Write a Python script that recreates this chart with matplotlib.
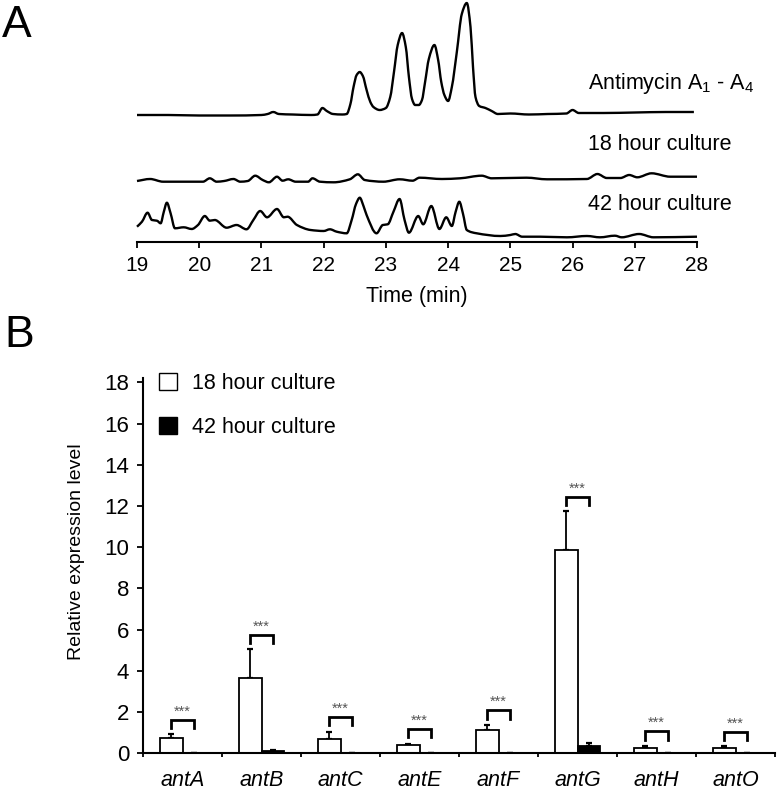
import numpy as np
import matplotlib
matplotlib.use("Agg")
import matplotlib.pyplot as plt
from matplotlib.patches import Patch, PathPatch
from matplotlib.path import Path

plt.rcParams['font.family'] = ['Liberation Sans', 'DejaVu Sans']
plt.rcParams['mathtext.fontset'] = 'custom'
plt.rcParams['mathtext.rm'] = 'Liberation Sans'

# ---- panel A: chromatogram traces (time in min, height above axis) ----
anti_t = [19.0, 19.5, 20.0, 20.5, 21.0, 21.1, 21.19, 21.28, 21.5, 21.8, 21.9, 21.98,
          22.05, 22.15, 22.3, 22.37, 22.43, 22.48, 22.53, 22.58, 22.63, 22.69, 22.75,
          22.8, 22.9, 23.0, 23.07, 23.13, 23.19, 23.26, 23.32, 23.37, 23.42, 23.47,
          23.53, 23.58, 23.63, 23.69, 23.78, 23.84, 23.89, 23.94, 24.0, 24.06, 24.14,
          24.22, 24.3, 24.36, 24.4, 24.44, 24.5, 24.6, 24.7, 24.8, 25.0, 25.3, 25.6,
          25.9, 26.0, 26.1, 26.5, 27.0, 27.5, 27.95]
anti_h = [127, 127, 126.5, 126.5, 127, 128, 130, 128, 127.5, 127, 127.5, 134,
          131, 128, 127.5, 128, 138, 155, 167, 170, 166, 152, 140,
          135, 132, 134, 145, 170, 197, 209, 195, 165, 143, 137,
          137, 142, 160, 183, 197, 182, 160, 147, 141, 155, 190,
          228, 239, 215, 175, 145, 136, 134, 131, 128, 128.5, 127.5, 128,
          128.5, 132, 129, 129, 129.5, 130, 130]

h18_t = [19.0, 19.21, 19.42, 20.06, 20.17, 20.28, 20.4, 20.55, 20.66, 20.78, 20.9,
         21.02, 21.12, 21.25, 21.34, 21.43, 21.55, 21.75, 21.82, 21.94, 22.16, 22.42,
         22.55, 22.66, 22.96, 23.22, 23.43, 23.54, 23.9, 24.19, 24.54, 24.7, 25.26,
         25.59, 26.23, 26.4, 26.55, 26.77, 26.91, 27.04, 27.27, 27.57, 28.0]
h18_h = [61, 63, 60.3, 60.3, 63.7, 60.3, 61, 63, 60.3, 61, 66.3,
         62, 59.7, 65.3, 61.3, 62.7, 60.3, 60.3, 63.7, 60.3, 59.7, 62.7,
         67.7, 62, 60.3, 62.7, 61.3, 64.3, 63, 63.7, 66.3, 63.7, 64.3,
         62.7, 63, 68, 64, 64, 67, 64.7, 68.7, 65.3, 65.3]

h42_t = [19.0, 19.08, 19.17, 19.24, 19.32, 19.38, 19.43, 19.48, 19.54, 19.61, 19.75,
         19.88, 19.98, 20.09, 20.17, 20.25, 20.44, 20.6, 20.76, 20.87, 20.98, 21.09,
         21.25, 21.36, 21.42, 21.57, 21.79, 22.0, 22.1, 22.21, 22.37, 22.45, 22.52,
         22.58, 22.64, 22.69, 22.85, 22.95, 23.03, 23.12, 23.22, 23.3, 23.37, 23.52,
         23.6, 23.73, 23.86, 23.97, 24.06, 24.12, 24.18, 24.24, 24.3, 24.46, 24.84,
         25.0, 25.08, 25.19, 25.48, 25.91, 26.23, 26.44, 26.68, 26.79, 27.07, 27.3,
         28.0]
h42_h = [15.3, 20.3, 29.3, 22, 21.3, 18.7, 30, 39.3, 28.7, 13.7, 14.7,
         13, 17, 26, 21.3, 22, 14.3, 17, 12.7, 22, 31, 24.7,
         33, 24.7, 25.3, 17, 12, 11, 12.7, 10.3, 8.7, 22, 38,
         44.3, 36, 27, 8.7, 17, 17.7, 30, 43, 22, 9.3, 26,
         17.7, 36, 13, 24.7, 16, 30, 40.3, 28, 12, 8.7, 6,
         7, 8, 5.3, 5.3, 4.7, 6, 4.7, 6.3, 4.7, 8, 4.7,
         5.3]

trace_labels = [r"Antimycin A$_1$ - A$_4$", "18 hour culture", "42 hour culture"]
time_ticks = [19, 20, 21, 22, 23, 24, 25, 26, 27, 28]

# ---- panel B: relative expression ----
genes = ["antA", "antB", "antC", "antE", "antF", "antG", "antH", "antO"]
expr_18h = [0.73, 3.64, 0.68, 0.42, 1.12, 9.85, 0.28, 0.28]
err_18h = [0.19, 1.41, 0.37, 0.05, 0.26, 1.9, 0.08, 0.07]
expr_42h = [0.02, 0.10, 0.02, 0.0, 0.02, 0.36, 0.0, 0.0]
err_42h = [0.0, 0.05, 0.0, 0.0, 0.0, 0.14, 0.0, 0.0]
y_ticks = [0, 2, 4, 6, 8, 10, 12, 14, 16, 18]


def smooth_path(xs, ys):
    # draw the trace as a piecewise cubic (monotone slopes) through the read points
    xs = np.asarray(xs, float)
    ys = np.asarray(ys, float)
    h = np.diff(xs)
    d = np.diff(ys) / h
    m = np.zeros_like(ys)
    m[0], m[-1] = d[0], d[-1]
    for k in range(1, len(xs) - 1):
        if d[k - 1] * d[k] <= 0:
            m[k] = 0
        else:
            w1 = 2 * h[k] + h[k - 1]
            w2 = h[k] + 2 * h[k - 1]
            m[k] = (w1 + w2) / (w1 / d[k - 1] + w2 / d[k])
    verts = [(xs[0], ys[0])]
    codes = [Path.MOVETO]
    for k in range(len(xs) - 1):
        dx = h[k] / 3
        verts += [(xs[k] + dx, ys[k] + m[k] * dx),
                  (xs[k + 1] - dx, ys[k + 1] - m[k + 1] * dx),
                  (xs[k + 1], ys[k + 1])]
        codes += [Path.CURVE4] * 3
    return Path(verts, codes)


W, H = 778, 792
fig = plt.figure(figsize=(W / 100, H / 100), dpi=100)

# panel A
axA = fig.add_axes([137 / W, (H - 242) / H, 560 / W, 242 / H])
for t, hh in [(anti_t, anti_h), (h18_t, h18_h), (h42_t, h42_h)]:
    axA.add_patch(PathPatch(smooth_path(t, hh), facecolor="none", edgecolor="black",
                            lw=1.7, joinstyle="round", clip_on=False))
axA.set_xlim(19, 28)
axA.set_ylim(0, 242)
for s in ["left", "top", "right"]:
    axA.spines[s].set_visible(False)
axA.spines["bottom"].set_linewidth(1.5)
axA.set_yticks([])
axA.set_xticks(time_ticks)
axA.tick_params(axis="x", direction="out", length=4, width=1.3, labelsize=15, pad=6)
axA.set_xlabel("Time (min)", fontsize=15.5, labelpad=8)

for lab, yp in zip(trace_labels, [83, 145, 205]):
    fig.text(588 / W, (H - yp) / H, lab, fontsize=15.5, ha="left", va="center")

fig.text(2 / W, (H - 37) / H, "A", fontsize=32, ha="left", va="baseline")
fig.text(4 / W, (H - 347) / H, "B", fontsize=32, ha="left", va="baseline")

# panel B
axB = fig.add_axes([143 / W, (H - 753.3) / H, 632 / W, 375 / H])
x = np.arange(len(genes))
bw = 0.28
axB.bar(x - bw / 2, expr_18h, bw, color="white", edgecolor="black", lw=1.3, zorder=2,
        label="18 hour culture")
axB.bar(x + bw / 2, expr_42h, bw, color="black", edgecolor="black", lw=1.3, zorder=2,
        label="42 hour culture")
axB.errorbar(x - bw / 2, expr_18h, yerr=[np.zeros(len(x)), err_18h], fmt="none",
             ecolor="black", elinewidth=1.3, capsize=2.5, capthick=1.6, zorder=1)
axB.errorbar(x + bw / 2, expr_42h, yerr=[np.zeros(len(x)), err_42h], fmt="none",
             ecolor="black", elinewidth=1.3, capsize=2.5, capthick=1.6, zorder=1)

# significance brackets
for i in range(len(genes)):
    top = max(expr_18h[i] + err_18h[i], expr_42h[i] + err_42h[i]) + 0.7
    axB.plot([i - bw / 2, i - bw / 2, i + bw / 2, i + bw / 2],
             [top - 0.4, top, top, top - 0.4], color="black", lw=2, solid_joinstyle="miter")
    axB.text(i, top + 0.06, "***", fontsize=10.5, color="#555555", ha="center", va="bottom")

axB.set_xlim(-0.5, len(genes) - 0.5)
axB.set_ylim(0, 18.2)
axB.set_yticks(y_ticks)
axB.set_xticks(x)
axB.set_xticklabels(genes, fontstyle="italic", fontsize=15.5)
axB.set_xticks(np.arange(len(genes) + 1) - 0.5, minor=True)
axB.tick_params(axis="x", which="major", length=0, pad=12)
axB.tick_params(axis="x", which="minor", direction="out", length=3, width=1.3)
axB.tick_params(axis="y", direction="out", length=4, width=1.3, labelsize=16, pad=6)
for s in ["top", "right"]:
    axB.spines[s].set_visible(False)
for s in ["left", "bottom"]:
    axB.spines[s].set_linewidth(1.5)
axB.set_ylabel("Relative expression level", fontsize=14)
axB.yaxis.set_label_coords(-0.092, 0.537)

handles = [Patch(facecolor="white", edgecolor="black", lw=1.0),
           Patch(facecolor="black", edgecolor="black", lw=1.0)]
axB.legend(handles, ["18 hour culture", "42 hour culture"], loc="upper left",
           bbox_to_anchor=(0.0253, 1.014), frameon=False, fontsize=15.5,
           handlelength=0.85, handleheight=0.85, handletextpad=0.7,
           labelspacing=1.05, borderpad=0, borderaxespad=0)

fig.savefig("out.png", dpi=100)
